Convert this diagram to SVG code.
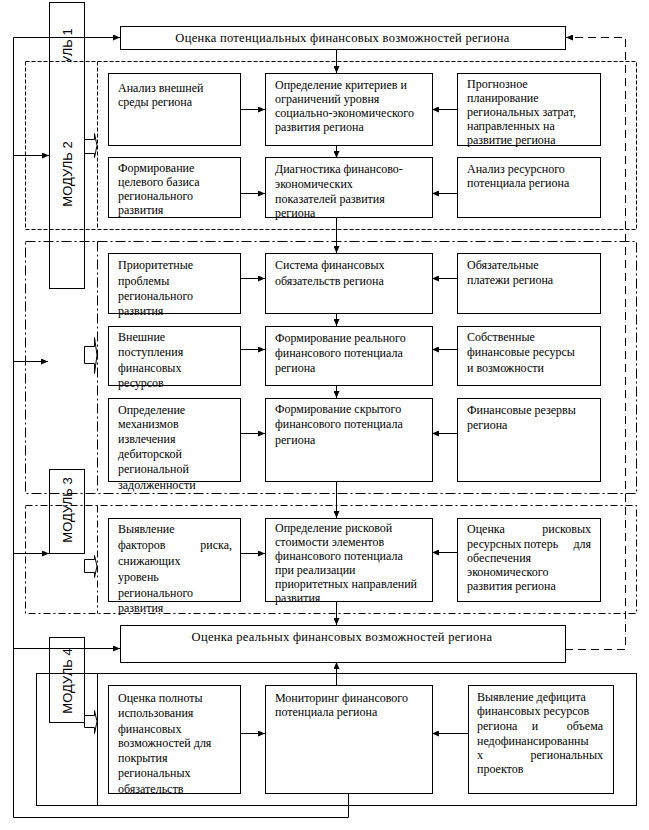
<svg xmlns="http://www.w3.org/2000/svg" width="649" height="830" viewBox="0 0 649 830">
<style>
.t{font-family:"Liberation Serif","Times New Roman",serif;font-size:12px;fill:#000}
.tt{font-family:"Liberation Serif","Times New Roman",serif;font-size:12.5px;fill:#000;letter-spacing:0.3px}
.m{font-family:"Liberation Sans",Arial,sans-serif;font-size:13px;fill:#000}
.box{fill:#fff;stroke:#000;stroke-width:1}
.mod{fill:none;stroke:#000;stroke-width:1}
.ln{fill:none;stroke:#000;stroke-width:1}
.d1{fill:none;stroke:#000;stroke-width:1;stroke-dasharray:4,2}
.d2{fill:none;stroke:#000;stroke-width:1;stroke-dasharray:10,3,2,3}
.d3{fill:none;stroke:#000;stroke-width:1;stroke-dasharray:7,3,2,3}
.d4{fill:none;stroke:#000;stroke-width:1;stroke-dasharray:8,5}
.ba{fill:#fff;stroke:#000;stroke-width:1}
</style>
<defs>
<marker id="ar" markerWidth="7" markerHeight="6" refX="7" refY="3" orient="auto" markerUnits="userSpaceOnUse"><path d="M0,0 L7,3 L0,6 z" fill="#000"/></marker>
<clipPath id="c1"><rect x="49" y="0" width="36" height="61"/></clipPath>
<clipPath id="c2"><rect x="108" y="685" width="132" height="108"/></clipPath>
</defs>

<g id="regions">
<rect class="d1" x="25.5" y="61.5" width="611" height="168"/>
<line class="d1" x1="97.5" y1="61.5" x2="97.5" y2="229.5"/>
<rect class="d2" x="25.5" y="241.5" width="611" height="252"/>
<line class="d2" x1="97.5" y1="241.5" x2="97.5" y2="493.5"/>
<rect class="d3" x="25.5" y="505.5" width="611" height="108"/>
<line class="d3" x1="97.5" y1="505.5" x2="97.5" y2="613.5"/>
<rect class="ln" x="36.5" y="673.5" width="600" height="132"/>
<line class="ln" x1="97.5" y1="673.5" x2="97.5" y2="805.5"/>
</g>

<g id="module12">
<rect class="mod" x="49.5" y="2.5" width="35" height="286"/>
<g clip-path="url(#c1)"><text class="m" transform="translate(72,61) rotate(-90)" text-anchor="middle">МОДУЛЬ 1</text></g>
<text class="m" transform="translate(72,174) rotate(-90)" text-anchor="middle">МОДУЛЬ 2</text>
</g>
<g id="module3">
<rect class="mod" x="49.5" y="469.5" width="35" height="84"/>
<text class="m" transform="translate(72,510) rotate(-90)" text-anchor="middle">МОДУЛЬ 3</text>
</g>
<g id="module4">
<rect class="mod" x="49.5" y="637.5" width="35" height="85"/>
<text class="m" transform="translate(72,681) rotate(-90)" text-anchor="middle">МОДУЛЬ 4</text>
</g>

<g id="connectors">
<polyline class="ln" points="348.5,793 348.5,817.5 13.5,817.5 13.5,37.5 120,37.5" marker-end="url(#ar)"/>
<line class="ln" x1="13.5" y1="155.5" x2="49" y2="155.5" marker-end="url(#ar)"/>
<line class="ln" x1="13.5" y1="361.5" x2="48" y2="361.5" marker-end="url(#ar)"/>
<line class="ln" x1="13.5" y1="553.5" x2="49" y2="553.5" marker-end="url(#ar)"/>
<line class="ln" x1="13.5" y1="648.5" x2="120" y2="648.5" marker-end="url(#ar)"/>
<polyline class="d4" points="565,649.5 625.5,649.5 625.5,37.5 566,37.5" marker-end="url(#ar)"/>
<line class="ln" x1="336.5" y1="49" x2="336.5" y2="73" marker-end="url(#ar)"/>
<line class="ln" x1="336.5" y1="145" x2="336.5" y2="158" marker-end="url(#ar)"/>
<line class="ln" x1="336.5" y1="217" x2="336.5" y2="253" marker-end="url(#ar)"/>
<line class="ln" x1="336.5" y1="313" x2="336.5" y2="326" marker-end="url(#ar)"/>
<line class="ln" x1="336.5" y1="385" x2="336.5" y2="398" marker-end="url(#ar)"/>
<line class="ln" x1="336.5" y1="481" x2="336.5" y2="518" marker-end="url(#ar)"/>
<line class="ln" x1="336.5" y1="601" x2="336.5" y2="625" marker-end="url(#ar)"/>
<line class="ln" x1="336.5" y1="685" x2="336.5" y2="662" marker-end="url(#ar)"/>
<line class="ln" x1="240" y1="109.5" x2="265" y2="109.5" marker-end="url(#ar)"/>
<line class="ln" x1="240" y1="193.5" x2="265" y2="193.5" marker-end="url(#ar)"/>
<line class="ln" x1="240" y1="278.5" x2="265" y2="278.5" marker-end="url(#ar)"/>
<line class="ln" x1="240" y1="349.5" x2="265" y2="349.5" marker-end="url(#ar)"/>
<line class="ln" x1="240" y1="433.5" x2="265" y2="433.5" marker-end="url(#ar)"/>
<line class="ln" x1="240" y1="553.5" x2="265" y2="553.5" marker-end="url(#ar)"/>
<line class="ln" x1="240" y1="733.5" x2="265" y2="733.5" marker-end="url(#ar)"/>
<line class="ln" x1="457" y1="109.5" x2="432" y2="109.5" marker-end="url(#ar)"/>
<line class="ln" x1="457" y1="193.5" x2="432" y2="193.5" marker-end="url(#ar)"/>
<line class="ln" x1="457" y1="278.5" x2="432" y2="278.5" marker-end="url(#ar)"/>
<line class="ln" x1="457" y1="349.5" x2="432" y2="349.5" marker-end="url(#ar)"/>
<line class="ln" x1="457" y1="433.5" x2="432" y2="433.5" marker-end="url(#ar)"/>
<line class="ln" x1="457" y1="552.5" x2="432" y2="552.5" marker-end="url(#ar)"/>
<line class="ln" x1="468" y1="733.5" x2="432" y2="733.5" marker-end="url(#ar)"/>
<polygon class="ba" points="84.5,139.5 94.5,139.5 94.5,133.5 97,145.5 94.5,157.5 94.5,153.5 84.5,153.5"/>
<polygon class="ba" points="84.5,346.5 94.5,346.5 94.5,337.5 97,355 94.5,373.5 94.5,363.5 84.5,363.5"/>
<polygon class="ba" points="84.5,559.5 94.5,559.5 94.5,555.5 97,566 94.5,577.5 94.5,572.5 84.5,572.5"/>
<polygon class="ba" points="84.5,715.5 94.5,715.5 94.5,710.5 97,721.5 94.5,733.5 94.5,727.5 84.5,727.5"/>
</g>

<g id="top">
<rect class="box" x="120.5" y="26.5" width="445" height="23"/>
<text class="tt" x="342.5" y="42" text-anchor="middle">Оценка потенциальных финансовых возможностей региона</text>
</g>

<g id="n-analiz-sredy">
<rect class="box" x="108.5" y="73.5" width="132" height="72"/>
<text class="t" x="118" y="92">Анализ внешней</text>
<text class="t" x="118" y="106">среды региона</text>
</g>
<g id="n-kriterii">
<rect class="box" x="265.5" y="73.5" width="167" height="72"/>
<text class="t" x="275" y="89">Определение критериев  и</text>
<text class="t" x="275" y="103">ограничений уровня</text>
<text class="t" x="275" y="117">социально-экономического</text>
<text class="t" x="275" y="131">развития региона</text>
</g>
<g id="n-prognoz">
<rect class="box" x="457.5" y="73.5" width="143" height="72"/>
<text class="t" x="467" y="88">Прогнозное</text>
<text class="t" x="467" y="102">планирование</text>
<text class="t" x="467" y="116">региональных затрат,</text>
<text class="t" x="467" y="130">направленных на</text>
<text class="t" x="467" y="144">развитие региона</text>
</g>
<g id="n-celevoy">
<rect class="box" x="108.5" y="157.5" width="132" height="60"/>
<text class="t" x="118" y="172">Формирование</text>
<text class="t" x="118" y="186">целевого базиса</text>
<text class="t" x="118" y="200">регионального</text>
<text class="t" x="118" y="214">развития</text>
</g>
<g id="n-diagnostika">
<rect class="box" x="265.5" y="157.5" width="167" height="60"/>
<text class="t" x="275" y="173">Диагностика финансово-</text>
<text class="t" x="275" y="188">экономических</text>
<text class="t" x="275" y="203">показателей развития</text>
<text class="t" x="275" y="217">региона</text>
</g>
<g id="n-resursny">
<rect class="box" x="457.5" y="157.5" width="143" height="60"/>
<text class="t" x="467" y="173">Анализ ресурсного</text>
<text class="t" x="467" y="187">потенциала региона</text>
</g>

<g id="n-prioritet">
<rect class="box" x="108.5" y="253.5" width="132" height="60"/>
<text class="t" x="118" y="269">Приоритетные</text>
<text class="t" x="118" y="285">проблемы</text>
<text class="t" x="118" y="300">регионального</text>
<text class="t" x="118" y="315">развития</text>
</g>
<g id="n-sistema">
<rect class="box" x="265.5" y="253.5" width="167" height="60"/>
<text class="t" x="275" y="269">Система финансовых</text>
<text class="t" x="275" y="285">обязательств региона</text>
</g>
<g id="n-platezhi">
<rect class="box" x="457.5" y="253.5" width="143" height="60"/>
<text class="t" x="467" y="269">Обязательные</text>
<text class="t" x="467" y="284">платежи региона</text>
</g>
<g id="n-vneshnie">
<rect class="box" x="108.5" y="326.5" width="132" height="59"/>
<text class="t" x="118" y="341">Внешние</text>
<text class="t" x="118" y="356">поступления</text>
<text class="t" x="118" y="372">финансовых</text>
<text class="t" x="118" y="387">ресурсов</text>
</g>
<g id="n-realny">
<rect class="box" x="265.5" y="326.5" width="167" height="59"/>
<text class="t" x="275" y="342">Формирование реального</text>
<text class="t" x="275" y="357">финансового потенциала</text>
<text class="t" x="275" y="372">региона</text>
</g>
<g id="n-sobstv">
<rect class="box" x="457.5" y="326.5" width="143" height="59"/>
<text class="t" x="467" y="341">Собственные</text>
<text class="t" x="467" y="356">финансовые ресурсы</text>
<text class="t" x="467" y="372">и возможности</text>
</g>
<g id="n-mehanizmy">
<rect class="box" x="108.5" y="398.5" width="132" height="83"/>
<text class="t" x="118" y="414">Определение</text>
<text class="t" x="118" y="428">механизмов</text>
<text class="t" x="118" y="443">извлечения</text>
<text class="t" x="118" y="458">дебиторской</text>
<text class="t" x="118" y="473">региональной</text>
<text class="t" x="118" y="489">задолженности</text>
</g>
<g id="n-skryty">
<rect class="box" x="265.5" y="398.5" width="167" height="83"/>
<text class="t" x="275" y="413">Формирование скрытого</text>
<text class="t" x="275" y="428">финансового потенциала</text>
<text class="t" x="275" y="444">региона</text>
</g>
<g id="n-rezervy">
<rect class="box" x="457.5" y="398.5" width="143" height="83"/>
<text class="t" x="467" y="414">Финансовые резервы</text>
<text class="t" x="467" y="429">региона</text>
</g>

<g id="n-faktory">
<rect class="box" x="108.5" y="518.5" width="132" height="83"/>
<text class="t" x="118" y="533">Выявление</text>
<text class="t" x="118" y="549">факторов</text>
<text class="t" x="232" y="549" text-anchor="end">риска,</text>
<text class="t" x="118" y="565">снижающих</text>
<text class="t" x="118" y="581">уровень</text>
<text class="t" x="118" y="597">регионального</text>
<text class="t" x="118" y="612">развития</text>
</g>
<g id="n-riskovaya">
<rect class="box" x="265.5" y="518.5" width="167" height="83"/>
<text class="t" x="275" y="532">Определение рисковой</text>
<text class="t" x="275" y="546">стоимости элементов</text>
<text class="t" x="275" y="560">финансового потенциала</text>
<text class="t" x="275" y="574">при реализации</text>
<text class="t" x="275" y="588">приоритетных направлений</text>
<text class="t" x="275" y="602">развития</text>
</g>
<g id="n-poteri">
<rect class="box" x="457.5" y="518.5" width="143" height="83"/>
<text class="t" x="467" y="533">Оценка</text>
<text class="t" x="591" y="533" text-anchor="end">рисковых</text>
<text class="t" x="467" y="548">ресурсных</text>
<text class="t" x="541" y="548" text-anchor="middle">потерь</text>
<text class="t" x="591" y="548" text-anchor="end">для</text>
<text class="t" x="467" y="562">обеспечения</text>
<text class="t" x="467" y="576">экономического</text>
<text class="t" x="467" y="590">развития региона</text>
</g>

<g id="bottom">
<rect class="box" x="120.5" y="625.5" width="445" height="37"/>
<text class="tt" x="342" y="641" text-anchor="middle">Оценка реальных финансовых возможностей региона</text>
</g>

<g id="n-polnota">
<rect class="box" x="108.5" y="685.5" width="132" height="108"/>
<g clip-path="url(#c2)">
<text class="t" x="118" y="702">Оценка полноты</text>
<text class="t" x="118" y="717">использования</text>
<text class="t" x="118" y="733">финансовых</text>
<text class="t" x="118" y="747">возможностей для</text>
<text class="t" x="118" y="762">покрытия</text>
<text class="t" x="118" y="777">региональных</text>
<text class="t" x="118" y="793">обязательств</text>
</g>
</g>
<g id="n-monitoring">
<rect class="box" x="265.5" y="685.5" width="167" height="108"/>
<text class="t" x="275" y="702">Мониторинг финансового</text>
<text class="t" x="275" y="716">потенциала региона</text>
</g>
<g id="n-deficit">
<rect class="box" x="468.5" y="685.5" width="145" height="108"/>
<text class="t" x="477" y="701">Выявление дефицита</text>
<text class="t" x="477" y="715">финансовых ресурсов</text>
<text class="t" x="477" y="730">региона</text>
<text class="t" x="535" y="730" text-anchor="middle">и</text>
<text class="t" x="603" y="730" text-anchor="end">объема</text>
<text class="t" x="477" y="745">недофинансированны</text>
<text class="t" x="477" y="759">х</text>
<text class="t" x="603" y="759" text-anchor="end">региональных</text>
<text class="t" x="477" y="773">проектов</text>
</g>
</svg>
